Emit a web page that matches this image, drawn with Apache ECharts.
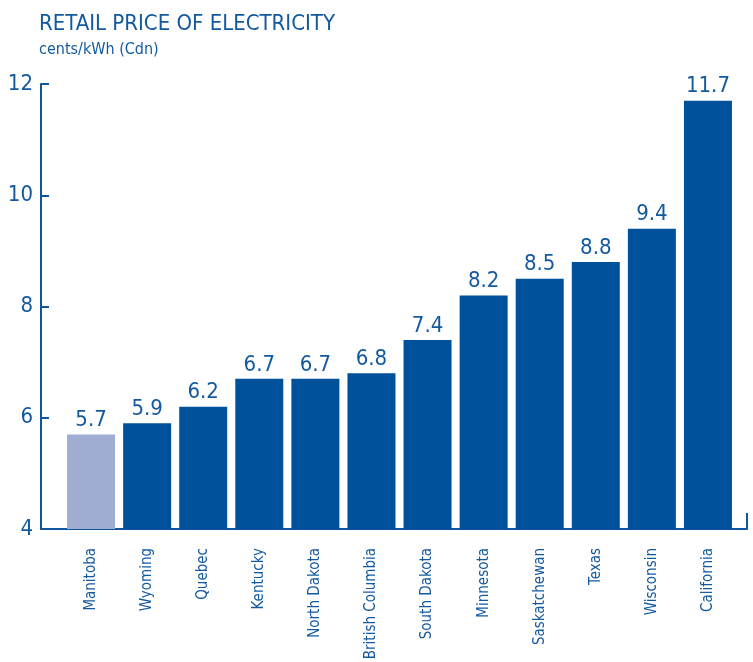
<!DOCTYPE html>
<html>
<head>
<meta charset="utf-8">
<script src="https://cdn.jsdelivr.net/npm/echarts@6/dist/echarts.min.js"></script>
<style>
html,body{margin:0;padding:0;background:#fff;}
#chart{width:753px;height:662px;}
</style>
</head>
<body>
<div id="chart"></div>
<script>
const categories = ["Manitoba","Wyoming","Quebec","Kentucky","North Dakota","British Columbia","South Dakota","Minnesota","Saskatchewan","Texas","Wisconsin","California"];
const values = [5.7,5.9,6.2,6.7,6.7,6.8,7.4,8.2,8.5,8.8,9.4,11.7];
const yTicks = [4,6,8,10,12];

const FONT = "'Liberation Sans Narrow','DejaVu Sans Condensed',sans-serif";
const TEXT = '#13599f';
const AXIS = '#0f569f';
const BAR = '#00519b';
const HILITE = '#a0aed3';

const chart = echarts.init(document.getElementById('chart'), null, {renderer:'canvas'});
chart.setOption({
  animation:false,
  backgroundColor:'#fff',
  title:[
    {text:'RETAIL PRICE OF ELECTRICITY', left:34, top:8,
     textStyle:{fontFamily:FONT, fontSize:22, fontWeight:'normal', color:TEXT}},
    {text:'cents/kWh (Cdn)', left:34, top:37,
     textStyle:{fontFamily:FONT, fontSize:16, fontWeight:'normal', color:TEXT}}
  ],
  grid:[
    {left:41, right:6, top:84, bottom:133, containLabel:false, outerBoundsMode:'none'},
    {left:63, right:17, top:84, bottom:133, containLabel:false, outerBoundsMode:'none'}
  ],
  xAxis:[
    {type:'value', gridIndex:0, min:0, max:1, interval:1,
     axisLine:{show:true, lineStyle:{color:AXIS, width:2}},
     axisTick:{show:true, inside:true, length:16, lineStyle:{color:AXIS, width:2}},
     axisLabel:{show:false}, splitLine:{show:false}},
    {type:'category', gridIndex:1, data:categories,
     axisLine:{show:false}, axisTick:{show:false}, splitLine:{show:false},
     axisLabel:{rotate:90, interval:0, margin:19, fontFamily:FONT, fontSize:15, color:TEXT}}
  ],
  yAxis:[
    {type:'value', gridIndex:0, min:yTicks[0], max:yTicks[yTicks.length-1], interval:2,
     axisLine:{show:true, lineStyle:{color:AXIS, width:2}},
     axisTick:{show:true, inside:true, length:8, lineStyle:{color:AXIS, width:2}},
     axisLabel:{margin:8, fontFamily:FONT, fontSize:22, color:TEXT},
     splitLine:{show:false}},
    {type:'value', gridIndex:1, min:yTicks[0], max:yTicks[yTicks.length-1], interval:2,
     show:false}
  ],
  series:[
    {type:'bar', xAxisIndex:1, yAxisIndex:1, data:values, barWidth:48,
     itemStyle:{color:function(p){return p.dataIndex===0?HILITE:BAR;}},
     label:{show:true, position:'top', distance:3, fontFamily:FONT, fontSize:22, color:TEXT,
       formatter:function(p){return p.value.toFixed(1);}}}
  ]
});
</script>
</body>
</html>
